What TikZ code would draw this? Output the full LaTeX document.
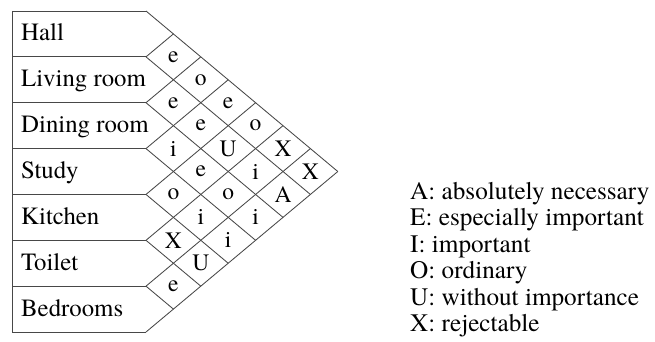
\documentclass[tikz,border=0pt]{standalone}
\usepackage{fontspec}
\setmainfont{TeX Gyre Termes}
\begin{document}
\begin{tikzpicture}[x=1pt,y=-1pt,
  grid/.style={draw=black!72, line width=0.85pt},
  rowlabel/.style={anchor=base west, inner sep=0pt, font=\fontsize{24.8}{26}\selectfont},
  cell/.style={inner sep=0pt, font=\fontsize{23.5}{24}\selectfont},
  legend/.style={anchor=base west, inner sep=0pt, font=\fontsize{25.2}{26.5}\selectfont}]
\useasboundingbox (0,0) rectangle (655,342);
\def\W{27.4}\def\H{22.93}\def\XL{146}\def\YT{11}\def\XB{12}
% grid points
\foreach \r in {0,...,7} {
  \coordinate (L\r) at (\XL, {\YT+2*\H*\r});
  \coordinate (E\r) at (\XB, {\YT+2*\H*\r});
  \coordinate (T\r) at ({\XL+\r*\W}, {\YT+\r*\H});
  \coordinate (B\r) at ({\XL+\r*\W}, {\YT+(14-\r)*\H});
}
% left boxes
\draw[grid] (E0) -- (E7);
\foreach \r in {0,...,7} \draw[grid] (E\r) -- (L\r);
% diagonal grid
\foreach \r [evaluate=\r as \s using int(7-\r)] in {0,...,6} \draw[grid] (L\r) -- (B\s);
\foreach \r in {1,...,7} \draw[grid] (L\r) -- (T\r);
% row labels
\foreach \r/\t in {0/Hall,1/Living room,2/Dining room,3/Study,4/Kitchen,5/Toilet,6/Bedrooms}
  \node[rowlabel] (row\r) at (21, {\YT+\H*(2*\r+1)+7}) {\t};
% cells
\foreach \i/\j/\t in {0/1/e,1/2/e,2/3/i,3/4/o,4/5/X,5/6/e,
                      0/2/o,1/3/e,2/4/e,3/5/i,4/6/U,
                      0/3/e,1/4/U,2/5/o,3/6/i,
                      0/4/o,1/5/i,2/6/i,
                      0/5/X,1/6/A,
                      0/6/X}
  \node[cell] (c\i\j) at ({\XL+(\j-\i)*\W}, {\YT+\H*(\i+\j+1)}) {\t};
% legend
\foreach \k/\t in {0/A: absolutely necessary,1/E: especially important,2/I: important,3/O: ordinary,4/U: without importance,5/X: rejectable}
  \node[legend] (leg\k) at (410, {199.3+26.5*\k}) {\t};
\end{tikzpicture}
\end{document}
